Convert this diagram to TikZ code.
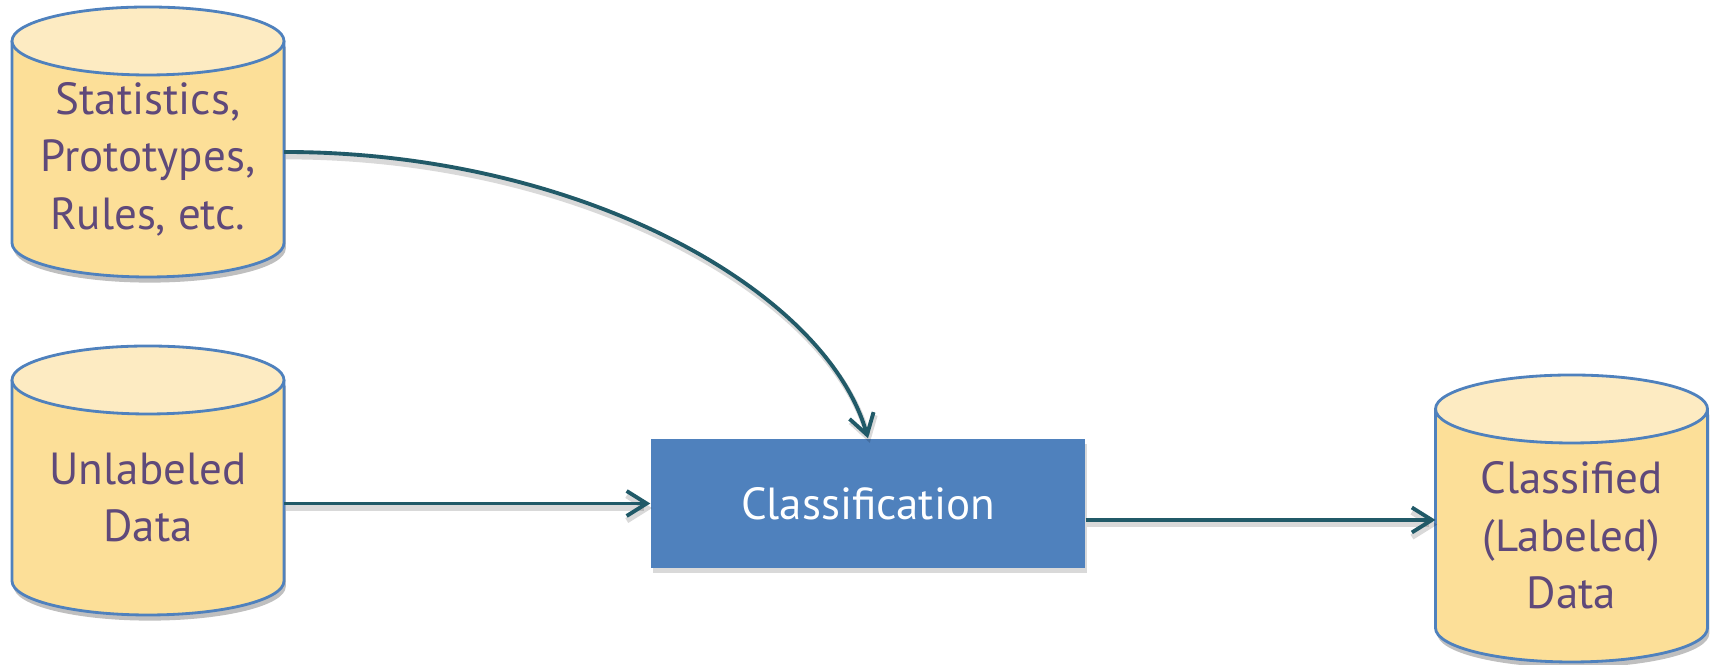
\documentclass[tikz,border=0pt]{standalone}
\usepackage{fontspec}
\setmainfont{PT Sans}
\usetikzlibrary{arrows.meta,shadows,calc,backgrounds}

\definecolor{gold}{HTML}{FCDF98}
\definecolor{goldtop}{HTML}{FDEBC2}
\definecolor{edgeblue}{HTML}{4F81BD}
\definecolor{txtpurple}{HTML}{5F497A}
\definecolor{arrowteal}{HTML}{215A68}

\tikzset{
  db/.style={rectangle, text=txtpurple, align=center, minimum width=2.72cm, inner sep=0pt, outer sep=0pt},
  proc/.style={rectangle, fill=edgeblue, text=white, minimum width=4.34cm, minimum height=1.29cm,
    drop shadow={opacity=0.3, shadow xshift=0.02cm, shadow yshift=-0.05cm}},
  flow/.style={-{Straight Barb[length=2mm,width=2.5mm]}, arrowteal, line width=1.1pt,
    preaction={draw=black, opacity=0.15, line width=1.6pt, transform canvas={xshift=0.5pt,yshift=-1.3pt}}}
}

% cylinder behind a db node: node spans from the top ellipse centre to the bottom
\newcommand{\drawdb}[1]{%
  \begin{scope}[on background layer]
    \fill[black, opacity=0.25, transform canvas={xshift=0.5pt,yshift=-1.6pt}] (#1.north west) -- ($(#1.south west)+(0,0.34)$)
      arc[start angle=180, end angle=360, x radius=1.36, y radius=0.34] -- (#1.north east) -- cycle;
    \filldraw[fill=gold, draw=edgeblue, line width=0.8pt] (#1.north west) -- ($(#1.south west)+(0,0.34)$)
      arc[start angle=180, end angle=360, x radius=1.36, y radius=0.34] -- (#1.north east);
    \filldraw[fill=goldtop, draw=edgeblue, line width=0.8pt] (#1.north) ellipse[x radius=1.36, y radius=0.34];
  \end{scope}}

\begin{document}
\begin{tikzpicture}\fontsize{12.8}{16.4}\selectfont
	\useasboundingbox (0,0) rectangle (17.15,6.65);
	\node[db, minimum height=2.36cm] (stats) at (1.48,5.06) {Statistics,\\Prototypes,\\Rules, etc.};
	\node[db, minimum height=2.35cm] (unlab) at (1.48,1.675) {Unlabeled\\Data};
	\node[db, minimum height=2.53cm] (labeled) at (15.715,1.295) {Classified\\(Labeled)\\Data};
	\node[proc] (classif) at (8.68,1.615) {Classification};
	\drawdb{stats}
	\drawdb{unlab}
	\drawdb{labeled}

	\draw[flow] ([yshift=0.7mm]stats.east) .. controls +(2.96,0) and +(-0.42,1.48) .. (classif.north);
	\draw[flow] (unlab.east |- classif.west) -- (classif.west);
	\draw[flow] ([yshift=-1.65mm]classif.east) -- ([yshift=-1.65mm]classif.east -| labeled.west);
\end{tikzpicture}
\end{document}
